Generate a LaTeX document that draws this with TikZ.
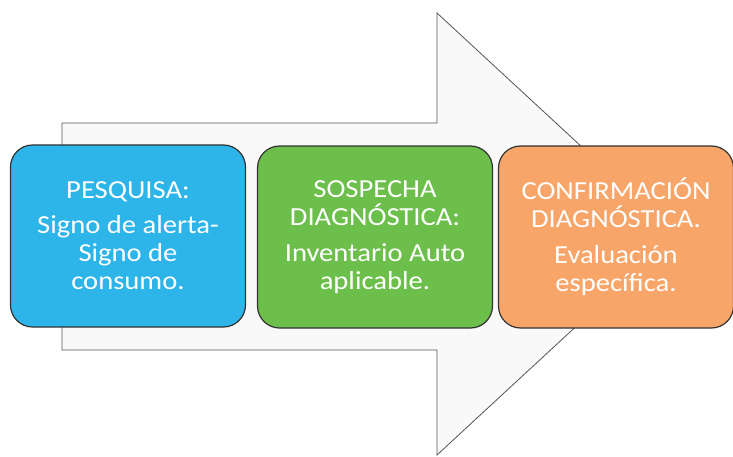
\documentclass[tikz,border=0pt]{standalone}
\usepackage{fontspec}
\setmainfont{Carlito}[FakeStretch=1.1]
\definecolor{boxblue}{HTML}{2DB4E8}
\definecolor{boxgreen}{HTML}{6CBF4A}
\definecolor{boxorange}{HTML}{F8A56A}
\definecolor{arrowline}{HTML}{555555}
\definecolor{arrowfill}{HTML}{F9F9F9}
\tikzset{
  stagebox/.style={rectangle, rounded corners=22pt, draw=black!80, line width=1.2pt,
    minimum width=235pt, minimum height=182pt, align=center, text=white,
    font=\fontsize{26}{28}\selectfont, inner sep=0pt},
  bigarrow/.style={draw=arrowline, line width=0.8pt, fill=arrowfill}
}
\begin{document}
\begin{tikzpicture}[x=1pt,y=-1pt]
\useasboundingbox[fill=white] (0,0) rectangle (733,457);
% background arrow
\draw[bigarrow] (62,123) -- (437,123) -- (437,13) -- (676,234) -- (437,455) -- (437,350) -- (62,350) -- cycle;
% stage boxes
\node[stagebox, fill=boxblue] (pesq) at (128,236)
  {PESQUISA:\\[7pt]Signo de alerta-\\Signo de\\consumo.};
\node[stagebox, fill=boxgreen] (sosp) at (375,237)
  {SOSPECHA\\DIAGNÓSTICA:\\[8pt]Inventario Auto\\aplicable.};
\node[stagebox, fill=boxorange] (conf) at (616,237)
  {CONFIRMACIÓN\\DIAGNÓSTICA.\\[8pt]Evaluación\\específica.};
\end{tikzpicture}
\end{document}
